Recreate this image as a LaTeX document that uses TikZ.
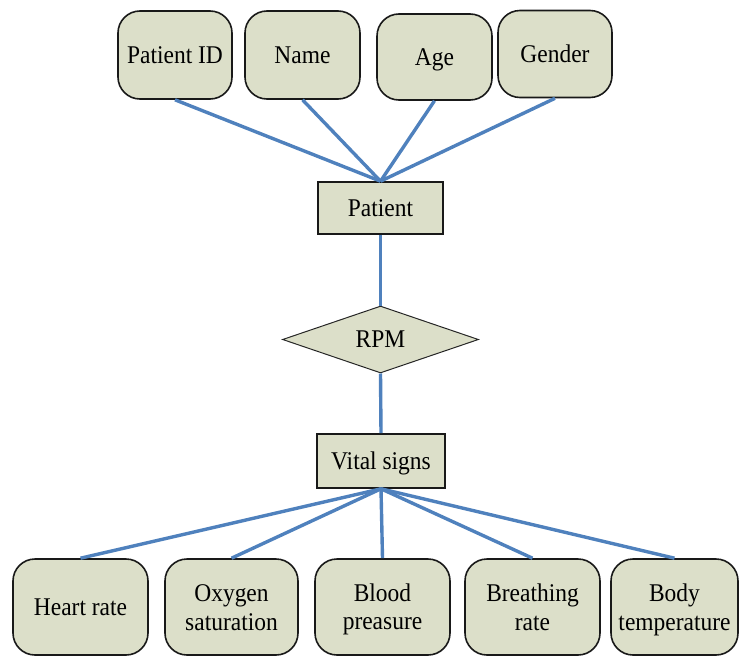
\documentclass[tikz,border=0pt]{standalone}
\usepackage{fontspec}
\setmainfont[FakeStretch=0.92]{Liberation Serif}
\usetikzlibrary{shapes.geometric}
\definecolor{boxfill}{RGB}{220,223,201}
\definecolor{linkblue}{RGB}{79,129,189}
% invisible strut that fixes the line height and depth of box labels
\newcommand\labelstrut{\rule[-5.4pt]{0pt}{28pt}}
\begin{document}
\begin{tikzpicture}[x=1pt,y=-1pt,
  every node/.style={font=\fontsize{25.5}{28}\selectfont, text=black},
  attr/.style={draw=black!90, line width=1.6pt, fill=boxfill, rounded corners=22pt,
               inner sep=0pt, align=center},
  entity/.style={draw=black!90, line width=1.6pt, fill=boxfill, inner sep=0pt},
  relation/.style={draw=black!85, line width=1pt, fill=boxfill, diamond, inner sep=0pt},
  link/.style={draw=linkblue, line width=3.4pt}]
\useasboundingbox (0,0) rectangle (739,656);

% attributes of the patient entity
\node[attr, minimum width=114pt, minimum height=88pt] (pid) at (175,55) {\labelstrut Patient ID};
\node[attr, minimum width=115pt, minimum height=88pt] (name) at (302.5,55) {\labelstrut Name};
\node[attr, minimum width=115pt, minimum height=86pt] (age) at (434.5,57) {\labelstrut Age};
\node[attr, minimum width=114pt, minimum height=87pt] (gender) at (555,54) {\labelstrut Gender};

% entities and relationship
\node[entity, minimum width=125pt, minimum height=52pt] (patient) at (380.5,208) {\labelstrut Patient};
\node[relation, minimum width=196pt, minimum height=67pt] (rpm) at (380.5,339.5) {RPM};
\node[entity, minimum width=128pt, minimum height=54pt] (vital) at (381,461) {\labelstrut Vital signs};

% attributes of the vital signs entity
\node[attr, minimum width=135pt, minimum height=96pt] (heart) at (80.5,607) {\labelstrut Heart rate};
\node[attr, minimum width=133pt, minimum height=96pt] (oxy) at (231.5,607) {\labelstrut Oxygen\\\labelstrut saturation};
\node[attr, minimum width=135pt, minimum height=96pt] (blood) at (382.5,607) {\labelstrut Blood\\\labelstrut preasure};
\node[attr, minimum width=135pt, minimum height=96pt] (breath) at (532.5,607) {\labelstrut Breathing\\\labelstrut rate};
\node[attr, minimum width=127pt, minimum height=96pt] (body) at (674.5,607) {\labelstrut Body\\\labelstrut temperature};

% connectors
\draw[link] (pid.south) -- (patient.north);
\draw[link] (name.south) -- (patient.north);
\draw[link] (age.south) -- (patient.north);
\draw[link] (gender.south) -- (patient.north);
\draw[link] (patient.south) -- (rpm.north);
\draw[link] (rpm.south) -- (vital.north);
\foreach \n in {heart,oxy,blood,breath,body}
  \draw[link] (vital.south) -- (\n.north);
\end{tikzpicture}
\end{document}
